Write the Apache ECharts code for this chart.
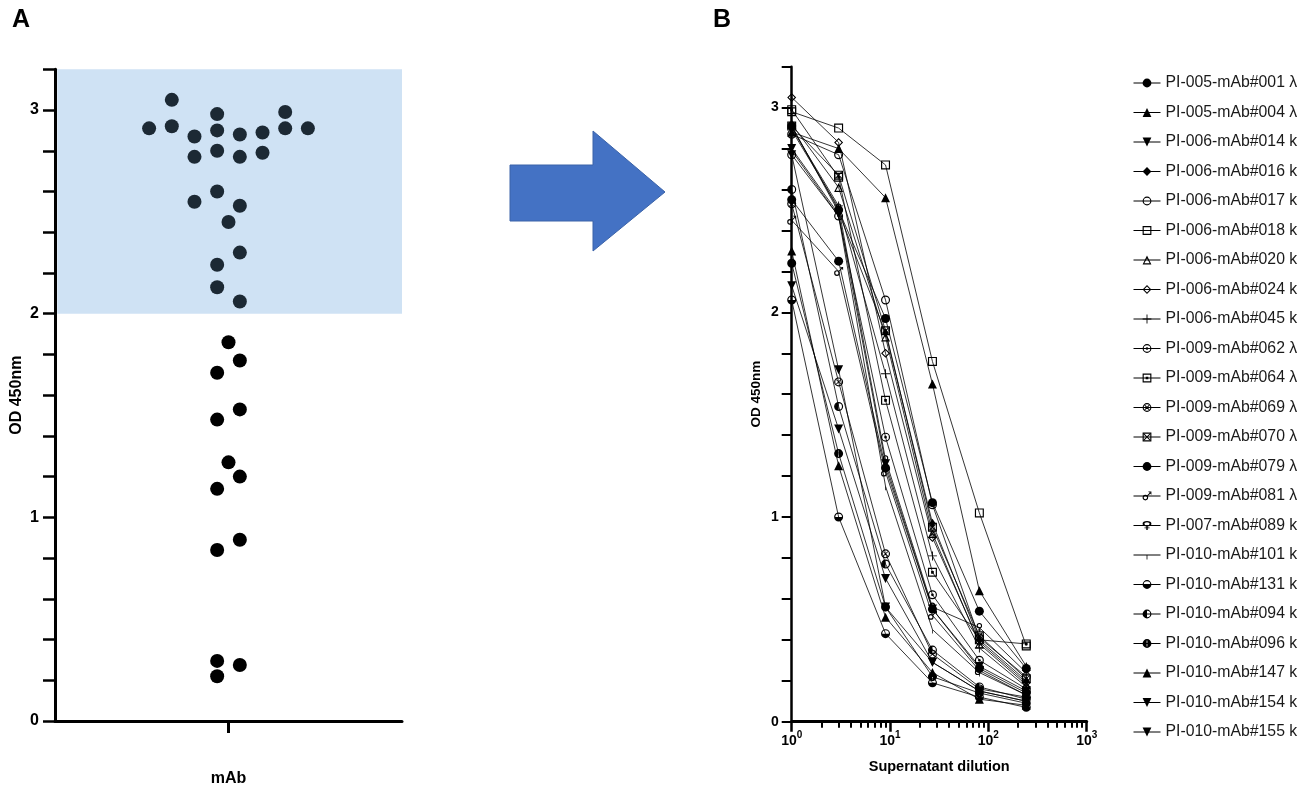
<!DOCTYPE html>
<html>
<head>
<meta charset="utf-8">
<script src="https://cdn.jsdelivr.net/npm/echarts/dist/echarts.min.js"></script>
<style>
  html, body { margin: 0; padding: 0; background: #fff; }
  #dotChart { position: absolute; left: 0; top: 0; width: 700px; height: 788px; }
  #curveChart { position: absolute; left: 700px; top: 0; width: 599px; height: 788px; }
</style>
</head>
<body>
<div id="dotChart"></div>
<div id="curveChart"></div>
<script>
// panel A: OD at 1:1 for every mAb, with its beeswarm column
const mAbOD = [3.05, 2.98, 2.99, 2.91, 2.92, 2.87, 2.90, 2.88, 2.89, 2.91, 2.91,
  2.77, 2.80, 2.77, 2.79, 2.55, 2.60, 2.53, 2.45, 2.30, 2.24, 2.13, 2.06,
  1.86, 1.77, 1.71, 1.53, 1.48, 1.27, 1.20, 1.14, 0.89, 0.84, 0.295, 0.275, 0.22];
const mAbSwarm = [-2.5, -0.5, 2.5, -3.5, -2.5, -1.5, -0.5, 0.5, 1.5, 2.5, 3.5,
  -1.5, -0.5, 0.5, 1.5, -1.5, -0.5, 0.5, 0, 0.5, -0.5, -0.5, 0.5,
  0, 0.5, -0.5, 0.5, -0.5, 0, 0.5, -0.5, 0.5, -0.5, -0.5, 0.5, -0.5];
const cutoff = 2;

// panel B: dilution series
const dilutions = [1, 3, 9, 27, 81, 243];
const cloneNames = ['PI-005-mAb#001 λ', 'PI-005-mAb#004 λ', 'PI-006-mAb#014 k', 'PI-006-mAb#016 k',
  'PI-006-mAb#017 k', 'PI-006-mAb#018 k', 'PI-006-mAb#020 k', 'PI-006-mAb#024 k', 'PI-006-mAb#045 k',
  'PI-009-mAb#062 λ', 'PI-009-mAb#064 λ', 'PI-009-mAb#069 λ', 'PI-009-mAb#070 λ', 'PI-009-mAb#079 λ',
  'PI-009-mAb#081 λ', 'PI-007-mAb#089 k', 'PI-010-mAb#101 k', 'PI-010-mAb#131 k', 'PI-010-mAb#094 k',
  'PI-010-mAb#096 k', 'PI-010-mAb#147 k', 'PI-010-mAb#154 k', 'PI-010-mAb#155 k'];
const cloneOD = [
  [2.91, 2.50, 1.97, 1.07, 0.54, 0.26],
  [2.88, 2.80, 2.56, 1.65, 0.64, 0.27],
  [2.80, 2.48, 1.26, 0.55, 0.27, 0.15],
  [2.91, 2.49, 1.90, 0.97, 0.40, 0.20],
  [2.87, 2.77, 2.06, 1.06, 0.41, 0.22],
  [2.98, 2.90, 2.72, 1.76, 1.02, 0.37],
  [2.92, 2.61, 1.88, 0.92, 0.38, 0.18],
  [3.05, 2.83, 1.80, 0.90, 0.39, 0.19],
  [2.90, 2.52, 1.70, 0.81, 0.36, 0.17],
  [2.77, 2.47, 1.39, 0.62, 0.30, 0.16],
  [2.99, 2.66, 1.57, 0.73, 0.40, 0.38],
  [2.53, 1.66, 0.82, 0.33, 0.16, 0.12],
  [2.91, 2.67, 1.91, 0.95, 0.42, 0.21],
  [2.55, 2.25, 1.24, 0.55, 0.26, 0.14],
  [2.45, 2.20, 1.22, 0.52, 0.25, 0.13],
  [2.89, 2.51, 1.28, 0.56, 0.46, 0.24],
  [2.79, 2.47, 1.15, 0.45, 0.24, 0.13],
  [2.06, 1.00, 0.43, 0.19, 0.12, 0.07],
  [2.60, 1.54, 0.77, 0.35, 0.17, 0.11],
  [2.24, 1.31, 0.56, 0.22, 0.14, 0.09],
  [2.30, 1.25, 0.51, 0.24, 0.11, 0.08],
  [2.13, 1.43, 0.70, 0.29, 0.15, 0.10],
  [2.77, 1.72, 0.56, 0.29, 0.15, 0.10]
];
const odTicks = [0, 1, 2, 3];
const dilutionTicks = [1, 10, 100, 1000];

const FONT = 'Liberation Sans, Arial, sans-serif';

// marker shapes (rings are outer CW + inner CCW so they stay hollow)
const RING = 'M10,0A10,10 0 1,1 9.99,0Z M10,2.6A7.4,7.4 0 1,0 10.01,2.6Z';
const BOX = 'M0,0H20V20H0Z M2.6,2.6V17.4H17.4V2.6Z';
const markers = [
  'circle',
  'path://M10,0L20,20H0Z',
  'path://M0,0H20L10,20Z',
  'path://M10,0L17,10L10,20L3,10Z',
  'path://' + RING,
  'path://' + BOX,
  'path://M10,0L20,20H0Z M10,6.5L3.9,17.5H16.1Z',
  'path://M10,0L20,10L10,20L0,10Z M10,3.4L3.4,10L10,16.6L16.6,10Z',
  'path://M9,0H11V9H20V11H11V20H9V11H0V9H9Z',
  'path://' + RING + ' M10,7A3,3 0 1,1 9.99,7Z',
  'path://' + BOX + ' M7,7H13V13H7Z',
  'path://' + RING + ' M4,5.4L5.4,4L16,14.6L14.6,16Z M14.6,4L16,5.4L5.4,16L4,14.6Z',
  'path://' + BOX + ' M2.6,4.2L4.2,2.6L17.4,15.8L15.8,17.4Z M15.8,2.6L17.4,4.2L4.2,17.4L2.6,15.8Z',
  'circle',
  'path://M7,7A6,6 0 1,1 6.99,7Z M7,9.4A3.6,3.6 0 1,0 7.01,9.4Z M11,8L17,2L18.4,3.4L12.4,9.4Z M13,0H20V7L18,5V2H15Z',
  'path://M10,0A6,6 0 1,1 9.99,0Z M10,2.4A3.6,3.6 0 1,0 10.01,2.4Z M9,11.5H11V20H9Z M6.5,14.5H13.5V16.5H6.5Z',
  'path://M9.1,10H10.9V20H9.1Z M0,19.9H0.1V20H0Z M19.9,0H20V0.1H19.9Z',
  'path://' + RING + ' M2.6,10A7.4,7.4 0 0,0 17.4,10Z',
  'path://' + RING + ' M10,2.6A7.4,7.4 0 0,0 10,17.4Z',
  'path://M10,0A10,10 0 1,1 9.99,0Z M9.2,3V17H10.8V3Z',
  'path://M10,0L20,20H0Z',
  'path://M0,0H20L10,20Z',
  'path://M0,0H20L10,20Z'
];

function odLabel(v) {
  return odTicks.indexOf(Math.round(v * 10) / 10) >= 0 ? String(Math.round(v)) : '';
}

function initDots() {
  let dotChart = echarts.init(document.getElementById('dotChart'));
  let high = [];
  let low = [];
  mAbOD.forEach((v, i) => (v >= cutoff ? high : low).push([mAbSwarm[i], v]));
  let dotOption = {
    animation: false,
    title: {
      text: 'A', left: 7, top: 3,
      textStyle: { fontFamily: FONT, fontSize: 25, fontWeight: 'bold', color: '#000' }
    },
    grid: { left: 55, top: 69.3, width: 347, height: 651.7, outerBoundsMode: 'none' },
    xAxis: {
      type: 'value', min: -7.65, max: 7.65,
      name: 'mAb', nameLocation: 'middle', nameGap: 50,
      nameTextStyle: { fontFamily: FONT, fontSize: 16, fontWeight: 'bold', color: '#000' },
      axisLine: { onZero: false, lineStyle: { color: '#000', width: 3 } },
      axisTick: { customValues: [0], length: 12, lineStyle: { color: '#000', width: 3 } },
      axisLabel: { show: false },
      splitLine: { show: false }
    },
    yAxis: {
      type: 'value', min: 0, max: 3.2, interval: 0.2,
      name: 'OD 450nm', nameLocation: 'middle', nameGap: 30, nameRotate: 90,
      nameTextStyle: { fontFamily: FONT, fontSize: 16, fontWeight: 'bold', color: '#000' },
      axisLine: { onZero: false, lineStyle: { color: '#000', width: 3 } },
      axisTick: { length: 12, lineStyle: { color: '#000', width: 2.5 } },
      axisLabel: { formatter: odLabel, margin: 16, fontFamily: FONT, fontSize: 16, fontWeight: 'bold', color: '#000' },
      splitLine: { show: false }
    },
    graphic: [{
      type: 'polygon',
      shape: { points: [[510, 165], [593, 165], [593, 131], [665, 192], [593, 251], [593, 221], [510, 221]] },
      style: { fill: '#4472c4', stroke: '#3a62a8', lineWidth: 1 }
    }],
    series: [{
      type: 'scatter', data: high, symbolSize: 14,
      itemStyle: { color: '#1c2934', opacity: 1 },
      markArea: {
        silent: true,
        itemStyle: { color: '#cfe2f4', opacity: 1 },
        data: [[{ xAxis: -7.55, yAxis: 3.2 }, { xAxis: 7.65, yAxis: cutoff }]]
      },
      z: 3
    }, {
      type: 'scatter', data: low, symbolSize: 14,
      itemStyle: { color: '#000', opacity: 1 },
      z: 3
    }]
  };
  dotChart.setOption(dotOption);
}

function initCurves() {
  let curveChart = echarts.init(document.getElementById('curveChart'));
  let minorTicks = [];
  [1, 10, 100].forEach(d => { for (let k = 2; k <= 9; k++) minorTicks.push(k * d); });
  let curveOption = {
    animation: false,
    title: {
      text: 'B', left: 8, top: 3,
      textStyle: { fontFamily: FONT, fontSize: 25, fontWeight: 'bold', color: '#000' }
    },
    legend: {
      orient: 'vertical', left: 428, top: 69,
      itemWidth: 27, itemHeight: 11, itemGap: 11.5,
      data: cloneNames,
      lineStyle: { width: 1 },
      textStyle: { fontFamily: FONT, fontSize: 15.8, lineHeight: 18, color: '#1a1a1a' }
    },
    grid: { left: 91.7, top: 66.7, width: 295, height: 655, outerBoundsMode: 'none' },
    xAxis: [{
      type: 'log', logBase: 10, min: 1, max: 1000,
      name: 'Supernatant dilution', nameLocation: 'middle', nameGap: 38,
      nameTextStyle: { fontFamily: FONT, fontSize: 14.5, fontWeight: 'bold', color: '#000' },
      axisLine: { onZero: false, lineStyle: { color: '#000', width: 3 } },
      axisTick: { customValues: dilutionTicks, length: 10, lineStyle: { color: '#000', width: 2.5 } },
      axisLabel: {
        customValues: dilutionTicks, margin: 9,
        formatter: v => '{b|10}{s|' + Math.round(Math.log10(v)) + '}',
        rich: {
          b: { fontFamily: FONT, fontSize: 14, fontWeight: 'bold', color: '#000' },
          s: { fontFamily: FONT, fontSize: 10, fontWeight: 'bold', color: '#000', padding: [0, 0, 10, 0] }
        }
      },
      splitLine: { show: false }
    }, {
      type: 'log', logBase: 10, min: 1, max: 1000, position: 'bottom',
      axisLine: { show: false },
      axisTick: { customValues: minorTicks, length: 6, lineStyle: { color: '#000', width: 2 } },
      axisLabel: { show: false },
      splitLine: { show: false }
    }],
    yAxis: {
      type: 'value', min: 0, max: 3.2, interval: 0.2,
      name: 'OD 450nm', nameLocation: 'middle', nameGap: 28, nameRotate: 90,
      nameTextStyle: { fontFamily: FONT, fontSize: 13.5, fontWeight: 'bold', color: '#000' },
      axisLine: { onZero: false, lineStyle: { color: '#000', width: 2.5 } },
      axisTick: { length: 10, lineStyle: { color: '#000', width: 2 } },
      axisLabel: { formatter: odLabel, margin: 13, fontFamily: FONT, fontSize: 14, fontWeight: 'bold', color: '#000' },
      splitLine: { show: false }
    },
    series: cloneNames.map((name, i) => ({
      name: name,
      type: 'line',
      xAxisIndex: 0,
      data: dilutions.map((d, j) => [d, cloneOD[i][j]]),
      symbol: markers[i],
      symbolSize: name.indexOf('#101') >= 0 ? 8 : 9,
      symbolKeepAspect: true,
      showAllSymbol: true,
      lineStyle: { color: '#000', width: 0.8 },
      itemStyle: { color: '#000', borderWidth: 0 }
    }))
  };
  curveChart.setOption(curveOption);
}

initDots();
initCurves();
</script>
</body>
</html>
